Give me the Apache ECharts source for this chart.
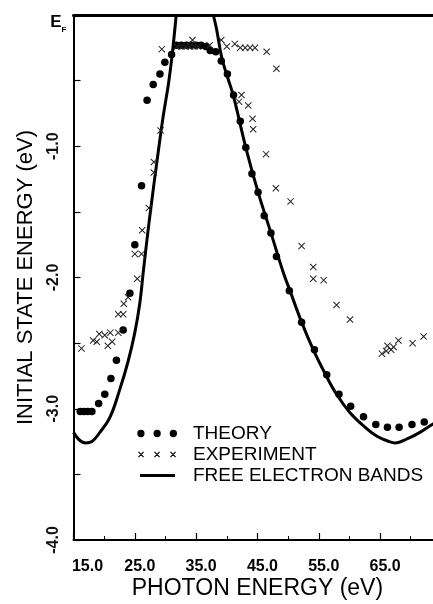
<!DOCTYPE html>
<html><head><meta charset="utf-8">
<script src="https://cdn.jsdelivr.net/npm/echarts/dist/echarts.min.js"></script>
<style>html,body{margin:0;padding:0;background:#fff}#c{width:433px;height:604px}</style>
</head><body><div id="c"></div>
<script>
// ---- data (photon energy eV, initial state energy eV) ----
const theory = [[16.1,-3.02],[16.7,-3.02],[17.3,-3.02],[18.0,-3.02],[19.1,-2.96],[20.1,-2.89],[21.1,-2.77],[22.0,-2.63],[23.1,-2.40],[24.2,-2.12],[25.0,-1.75],[26.1,-1.30],[27.0,-0.65],[28.0,-0.53],[29.1,-0.45],[29.9,-0.36],[31.0,-0.30],[31.8,-0.23],[32.6,-0.23],[33.4,-0.23],[34.2,-0.23],[35.0,-0.23],[35.8,-0.23],[36.6,-0.24],[37.3,-0.27],[38.2,-0.28],[39.1,-0.35],[40.1,-0.45],[41.1,-0.61],[42.2,-0.81],[43.1,-1.01],[44.1,-1.21],[45.1,-1.35],[46.1,-1.53],[47.2,-1.66],[48.1,-1.84],[50.2,-2.10],[52.2,-2.34],[54.3,-2.55],[56.3,-2.74],[58.3,-2.89],[60.2,-2.98],[62.3,-3.06],[64.3,-3.12],[66.2,-3.14],[68.1,-3.14],[70.2,-3.12],[72.2,-3.10]];
const experiment = [[16.3,-2.54],[18.2,-2.48],[18.8,-2.49],[19.2,-2.43],[20.1,-2.44],[20.6,-2.52],[21.0,-2.42],[21.3,-2.49],[22.3,-2.42],[22.3,-2.28],[23.1,-2.28],[23.2,-2.20],[23.9,-2.15],[25.4,-2.01],[25.0,-1.82],[26.1,-1.82],[26.2,-1.64],[27.3,-1.47],[28.1,-1.20],[28.1,-1.12],[29.2,-0.88],[29.4,-0.26],[31.9,-0.24],[32.6,-0.24],[33.3,-0.24],[34.0,-0.24],[34.4,-0.19],[34.7,-0.24],[35.3,-0.24],[37.2,-0.23],[39.1,-0.19],[40.0,-0.24],[41.3,-0.22],[42.2,-0.25],[43.0,-0.25],[43.8,-0.25],[44.6,-0.25],[46.5,-0.28],[48.1,-0.41],[42.4,-0.61],[42.0,-0.66],[43.5,-0.69],[44.2,-0.79],[44.3,-0.87],[46.4,-1.06],[48.0,-1.32],[50.4,-1.42],[52.2,-1.76],[54.1,-1.92],[54.1,-2.01],[55.8,-2.02],[57.9,-2.21],[60.1,-2.32],[65.3,-2.58],[66.0,-2.56],[66.2,-2.52],[66.8,-2.55],[67.2,-2.53],[68.0,-2.48],[70.3,-2.50],[72.1,-2.45]];
const bandLeft = [[15.0,-3.18],[16.0,-3.24],[17.0,-3.26],[18.0,-3.25],[19.3,-3.18],[20.9,-3.07],[22.5,-2.86],[23.9,-2.64],[25.0,-2.42],[25.8,-2.20],[26.4,-1.95],[27.4,-1.55],[28.8,-1.05],[29.6,-0.78],[30.5,-0.52],[31.1,-0.30],[31.75,0]];
const bandRight = [[37.8,0],[38.3,-0.1],[39.2,-0.33],[40.1,-0.47],[41.1,-0.62],[43.1,-1.01],[45.1,-1.35],[47.2,-1.66],[49.2,-1.96],[50.3,-2.10],[52.2,-2.34],[54.1,-2.55],[56.0,-2.73],[57.9,-2.89],[60.1,-3.03],[62.3,-3.13],[64.5,-3.21],[66.5,-3.25],[67.5,-3.26],[69.4,-3.23],[71.5,-3.18],[73.5,-3.12],[75.0,-3.08]];
const xTickLabels = ['15.0','25.0','35.0','45.0','55.0','65.0'];
const yTickLabels = {'-1':'-1.0','-2':'-2.0','-3':'-3.0','-4':'-4.0'};
const seriesNames = ['THEORY','EXPERIMENT','FREE ELECTRON BANDS'];
const xTitle = 'PHOTON ENERGY (eV)';
const yTitle = 'INITIAL STATE ENERGY (eV)';

// ---- icons ----
const crossSymbol = 'path://M0,1L1,0L10,9L9,10Z M9,0L10,1L1,10L0,9Z';
function circ(cx, cy, r){return 'M'+(cx-r)+','+cy+'a'+r+','+r+' 0 1,0 '+(2*r)+',0a'+r+','+r+' 0 1,0 '+(-2*r)+',0Z ';}
function cross(cx, cy, s, t){
  return 'M'+(cx-s)+','+(cy-s+t)+'L'+(cx-s+t)+','+(cy-s)+'L'+(cx+s)+','+(cy+s-t)+'L'+(cx+s-t)+','+(cy+s)+'Z '+
         'M'+(cx+s-t)+','+(cy-s)+'L'+(cx+s)+','+(cy-s+t)+'L'+(cx-s+t)+','+(cy+s)+'L'+(cx-s)+','+(cy+s-t)+'Z ';
}
const bounds = 'M0,0L0,0M40,8L40,8';
const dotsIcon = 'path://' + circ(4,4,3.7) + circ(20.5,4,3.7) + circ(37,4,3.7) + bounds;
const crossIcon = 'path://' + cross(4,4,3,0.8) + cross(20,4,3,0.8) + cross(36,4,3,0.8) + bounds;
const lineIcon = 'path://M3,2.5L38,2.5L38,5.5L3,5.5Z ' + bounds;

const bandData = bandLeft.concat([[34.8, null]], bandRight);

const chart = echarts.init(document.getElementById('c'), null, {renderer:'canvas'});
const FONT = 'Liberation Sans, Arial, sans-serif';
chart.setOption({
  animation: false,
  backgroundColor: '#fff',
  textStyle: {fontFamily: FONT, color: '#000'},
  grid: {left: 73.5, right: -8.4, top: 15, bottom: 64, outerBoundsMode: 'none', containLabel: false},
  legend: {
    orient: 'vertical', left: 137, top: 424, padding: 0,
    itemWidth: 40, itemHeight: 8, itemGap: 2,
    itemStyle: {color: '#000', borderWidth: 0, opacity: 1},
    textStyle: {fontFamily: FONT, fontSize: 19, color: '#000', lineHeight: 19, padding: [0,0,0,11]},
    data: [
      {name: seriesNames[0], icon: dotsIcon},
      {name: seriesNames[1], icon: crossIcon},
      {name: seriesNames[2], icon: lineIcon}
    ],
    selectedMode: false
  },
  xAxis: [{
    type: 'value', min: 15, max: 75, interval: 10, position: 'bottom',
    name: xTitle, nameLocation: 'middle', nameGap: 37, nameMoveOverlap: false,
    nameTextStyle: {fontFamily: FONT, fontSize: 23, color: '#000'},
    axisLine: {onZero: false, lineStyle: {color: '#000', width: 2}},
    axisTick: {inside: true, length: 7, lineStyle: {color: '#000', width: 1.2}},
    minorTick: {show: true, splitNumber: 2, length: 4, lineStyle: {color: '#000', width: 1}},
    splitLine: {show: false}, minorSplitLine: {show: false},
    axisLabel: {
      margin: 19, fontFamily: FONT, fontSize: 16, fontWeight: 'bold', color: '#111',
      showMinLabel: true, showMaxLabel: false, hideOverlap: false,
      formatter: function(v){
        const i = Math.round((v - 15) / 10);
        if (Math.abs(v - 15 - i*10) > 1e-6 || i < 0 || i >= xTickLabels.length) return '';
        return i === 0 ? '{a|' + xTickLabels[i] + '}' : '{b|' + xTickLabels[i] + '}';
      },
      rich: {a: {fontSize: 16, fontWeight: 'bold', padding: [0,0,0,28]}, b: {fontSize: 16, fontWeight: 'bold', padding: [0,0,0,10]}}
    }
  }, {
    type: 'value', min: 15, max: 75, position: 'top',
    name: '{e|E}{f|F}', nameLocation: 'start', nameGap: 7, nameMoveOverlap: false,
    nameTextStyle: {padding: [14,0,0,0], rich: {e: {fontFamily: FONT, fontSize: 17, fontWeight: 'bold', color: '#000'}, f: {fontFamily: FONT, fontSize: 8, fontWeight: 'bold', color: '#000', verticalAlign: 'bottom', padding: [0,0,-3,0]}}},
    axisLine: {onZero: false, lineStyle: {color: '#000', width: 3}},
    axisTick: {show: false}, axisLabel: {show: false}, splitLine: {show: false}
  }],
  yAxis: {
    type: 'value', min: -4, max: 0, interval: 0.5,
    name: yTitle, nameLocation: 'middle', nameGap: 37, nameMoveOverlap: false,
    nameTextStyle: {fontFamily: FONT, fontSize: 22, color: '#000'},
    axisLine: {onZero: false, lineStyle: {color: '#000', width: 2}},
    axisTick: {inside: true, length: 7, lineStyle: {color: '#000', width: 1.2}},
    splitLine: {show: false},
    axisLabel: {
      rotate: 90, margin: 12, fontFamily: FONT, fontSize: 16, fontWeight: 'bold', color: '#111',
      showMinLabel: true, showMaxLabel: true, hideOverlap: false,
      formatter: function(v){ const k = String(Math.round(v)); return (Math.abs(v - Math.round(v)) < 1e-6 && yTickLabels[k]) ? yTickLabels[k] : ''; }
    }
  },
  series: [
    {name: seriesNames[0], type: 'scatter', data: theory, symbol: 'circle', symbolSize: 7.5, itemStyle: {color: '#000', opacity: 1}, z: 3},
    {name: seriesNames[1], type: 'scatter', data: experiment, symbol: crossSymbol, symbolSize: 7, itemStyle: {color: '#222', opacity: 1}, z: 3},
    {name: seriesNames[2], type: 'line', data: bandData, showSymbol: false, symbol: 'none', smooth: 0.4, connectNulls: false,
     lineStyle: {color: '#000', width: 3}, itemStyle: {color: '#000'}, z: 2}
  ]
});
</script>
</body></html>
